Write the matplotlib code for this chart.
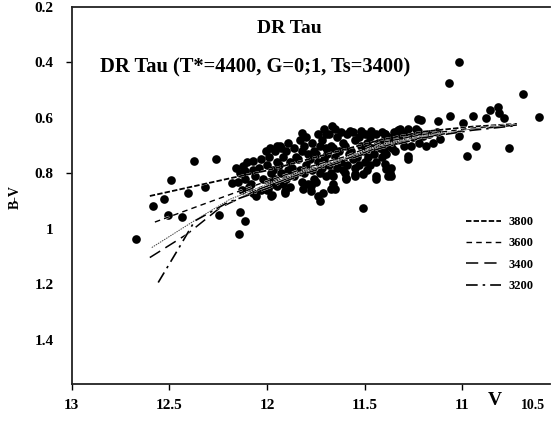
import matplotlib
matplotlib.use("Agg")
import matplotlib.pyplot as plt
import matplotlib.patheffects as pe

plt.rcParams['font.family'] = ['Liberation Serif', 'DejaVu Serif']
plt.rcParams['font.weight'] = 'bold'

faint_v = [12.669, 12.584, 12.526, 12.492, 12.506, 12.434, 12.404, 12.373, 12.263, 12.318,
           12.245, 12.18, 12.139, 12.114, 12.143, 12.057, 12.16, 12.114, 12.071, 12.003,
           11.951, 11.994, 11.972, 11.951]
faint_bv = [1.038, 0.919, 0.892, 0.826, 0.952, 0.957, 0.870, 0.756, 0.748, 0.849,
            0.952, 0.834, 0.940, 0.972, 1.020, 0.882, 0.780, 0.792, 0.756, 0.720,
            0.703, 0.858, 0.880, 0.846]

cluster_v = [12.14, 12.15, 12.13,
             12.10, 12.11, 12.09,
             12.07, 12.06, 12.08, 12.07,
             12.03, 12.04, 12.02, 12.03,
             11.99, 12.00, 11.98, 11.99, 12.00,
             11.96, 11.95, 11.97, 11.96,
             11.93, 11.92, 11.94, 11.93, 11.92,
             11.89, 11.90, 11.88, 11.89, 11.90, 11.88,
             11.86, 11.85, 11.87, 11.86,
             11.83, 11.82, 11.84, 11.83, 11.82,
             11.80, 11.81, 11.79, 11.80, 11.81, 11.79,
             11.77, 11.76, 11.78, 11.77, 11.76,
             11.74, 11.73, 11.75, 11.74, 11.73, 11.75,
             11.71, 11.72, 11.70, 11.71, 11.72, 11.70,
             11.68, 11.67, 11.69, 11.68, 11.67,
             11.65, 11.64, 11.66, 11.65, 11.64, 11.66,
             11.62, 11.61, 11.63, 11.62, 11.61,
             11.59, 11.60, 11.58, 11.59, 11.60,
             11.56, 11.55, 11.57, 11.56, 11.55,
             11.53, 11.52, 11.54, 11.53,
             11.50, 11.49, 11.51, 11.50, 11.49,
             11.47, 11.46, 11.48, 11.47,
             11.44, 11.43, 11.45, 11.44,
             11.41, 11.40, 11.42, 11.41,
             11.38, 11.37, 11.39,
             11.35, 11.34, 11.36]
cluster_bv = [0.80, 0.83, 0.86,
              0.76, 0.82, 0.85,
              0.79, 0.81, 0.84, 0.87,
              0.75, 0.78, 0.82, 0.86,
              0.74, 0.77, 0.80, 0.83, 0.86,
              0.72, 0.76, 0.79, 0.82,
              0.71, 0.74, 0.77, 0.80, 0.84,
              0.69, 0.72, 0.76, 0.79, 0.82, 0.85,
              0.71, 0.74, 0.78, 0.81,
              0.68, 0.72, 0.75, 0.79, 0.83,
              0.67, 0.70, 0.73, 0.77, 0.80, 0.84,
              0.69, 0.72, 0.75, 0.79, 0.82,
              0.66, 0.70, 0.73, 0.76, 0.80, 0.83,
              0.64, 0.68, 0.71, 0.75, 0.78, 0.81,
              0.66, 0.70, 0.73, 0.77, 0.80,
              0.64, 0.67, 0.71, 0.74, 0.78, 0.81,
              0.65, 0.69, 0.72, 0.76, 0.79,
              0.66, 0.70, 0.73, 0.77, 0.80,
              0.65, 0.68, 0.72, 0.75, 0.78,
              0.67, 0.70, 0.74, 0.77,
              0.66, 0.69, 0.72, 0.76, 0.79,
              0.67, 0.71, 0.74, 0.77,
              0.66, 0.69, 0.73, 0.76,
              0.65, 0.68, 0.71, 0.74,
              0.67, 0.70, 0.73,
              0.65, 0.68, 0.71]

edge_v = [11.908, 11.815, 11.772, 11.730, 11.739, 11.670, 11.662, 11.593, 11.551, 11.440,
          11.389, 11.363, 11.508, 11.969, 11.774, 11.713, 11.653, 11.951, 11.909, 11.977,
          11.593, 11.551, 11.508, 11.44, 11.38, 11.363, 11.278,
          11.823, 11.665, 11.696, 11.577, 11.517, 11.465, 11.397, 11.329, 11.286, 11.227,
          11.227, 11.935, 11.986, 12.122, 11.372]
edge_bv = [0.864, 0.858, 0.864, 0.900, 0.882, 0.858, 0.840, 0.816, 0.810, 0.810,
           0.786, 0.810, 0.924, 0.840, 0.846, 0.870, 0.858, 0.840, 0.870, 0.882,
           0.822, 0.804, 0.804, 0.822, 0.810, 0.780, 0.750,
           0.654, 0.628, 0.660, 0.649, 0.649, 0.649, 0.657, 0.645, 0.654, 0.649,
           0.606, 0.703, 0.708, 0.774, 0.676]

bright_v = [11.019, 11.069, 10.69, 10.608, 11.06, 10.946, 10.86, 10.818, 10.81, 10.877,
            10.784, 11.213, 11.125, 10.997, 10.928, 10.758, 10.976, 11.014, 11.397, 11.321,
            11.305, 11.235, 11.2, 11.15, 11.389, 11.346, 11.278, 11.397, 11.372, 11.26,
            11.184, 11.116, 11.35, 11.30, 11.25, 11.22, 11.17, 11.13, 11.28, 11.33,
            11.40, 11.42]
bright_bv = [0.397, 0.474, 0.513, 0.597, 0.592, 0.592, 0.571, 0.562, 0.582, 0.60,
             0.60, 0.609, 0.613, 0.618, 0.70, 0.708, 0.736, 0.667, 0.66, 0.642,
             0.667, 0.642, 0.667, 0.69, 0.702, 0.72, 0.738, 0.768, 0.798, 0.702,
             0.702, 0.678, 0.68, 0.70, 0.67, 0.69, 0.66, 0.65, 0.64, 0.66,
             0.72, 0.69]

# model tracks for different spot temperatures
v_3800 = [12.60, 12.33, 12.175, 12.0, 11.66, 11.42, 11.2, 10.95, 10.72]
bv_3800 = [0.882, 0.84, 0.816, 0.79, 0.725, 0.68, 0.65, 0.632, 0.622]
v_3600 = [12.574, 12.327, 12.07, 11.8, 11.6, 11.42, 11.2, 10.95, 10.72]
bv_3600 = [0.976, 0.912, 0.846, 0.78, 0.74, 0.69, 0.66, 0.637, 0.624]
v_thin = [12.59, 12.36, 12.19, 12.0, 11.8, 11.6, 11.42, 11.2, 10.95, 10.72]
bv_thin = [1.068, 0.966, 0.894, 0.84, 0.79, 0.745, 0.70, 0.665, 0.64, 0.625]
v_3400 = [12.60, 12.41, 12.24, 12.05, 11.8, 11.6, 11.42, 11.2, 10.95, 10.72]
bv_3400 = [1.104, 1.02, 0.924, 0.86, 0.795, 0.75, 0.705, 0.67, 0.642, 0.626]
v_3200 = [12.557, 12.455, 12.37, 12.2, 12.0, 11.8, 11.6, 11.42, 11.2, 10.95, 10.72]
bv_3200 = [1.194, 1.074, 0.972, 0.905, 0.855, 0.80, 0.755, 0.71, 0.672, 0.645, 0.628]

xticks = [13, 12.5, 12, 11.5, 11]
xlabels = ['13', '12.5', '12', '11.5', '11']
yticks = [0.2, 0.4, 0.6, 0.8, 1.0, 1.2, 1.4]
ylabels = ['0.2', '0.4', '0.6', '0.8', '1', '1.2', '1.4']

fig = plt.figure(figsize=(5.53, 4.30), dpi=100)
ax = fig.add_axes([0.1297, 0.107, 0.865, 0.877])

for vv, bb in [(faint_v, faint_bv), (cluster_v, cluster_bv), (edge_v, edge_bv), (bright_v, bright_bv)]:
    ax.scatter(vv, bb, s=39, c='black', marker='o', linewidths=0, zorder=2)

halo = [pe.Stroke(linewidth=1.6, foreground='white'), pe.Normal()]
ax.plot(v_thin, bv_thin, color='#444444', lw=0.7, ls=(0, (1.5, 1)), zorder=3, path_effects=halo)
ax.plot(v_3800, bv_3800, color='black', lw=1.3, ls=(0, (3, 1.2)), zorder=3, path_effects=halo, label='3800')
ax.plot(v_3600, bv_3600, color='black', lw=1.0, ls=(0, (4, 3)), zorder=3, path_effects=halo, label='3600')
ax.plot(v_3400, bv_3400, color='black', lw=1.1, ls=(0, (8, 4)), zorder=3, path_effects=halo, label='3400')
ax.plot(v_3200, bv_3200, color='black', lw=1.2, ls=(0, (7, 3, 1.5, 3)), zorder=3, path_effects=halo, label='3200')

ax.set_xlim(13, 10.55)
ax.set_ylim(1.56, 0.2)

ax.set_xticks(xticks)
ax.set_xticklabels(xlabels)
ax.set_yticks(yticks)
ax.set_yticklabels(ylabels)
ax.tick_params(axis='x', direction='out', length=4, width=1, pad=7, labelsize=11)
ax.tick_params(axis='y', direction='out', length=4, width=1, pad=9, labelsize=11)
for i, t in enumerate(ax.yaxis.get_major_ticks()):
    if ylabels[i] not in ('0.4', '0.8'):
        t.tick1line.set_visible(False)

ax.spines['right'].set_visible(False)
for s in ['left', 'bottom', 'top']:
    ax.spines[s].set_linewidth(1.3)
    ax.spines[s].set_color('#222222')

ax.text(0.9645, -0.056, '10.5', transform=ax.transAxes, ha='center', va='center', fontsize=10)
ax.text(0.885, -0.045, 'V', transform=ax.transAxes, ha='center', va='center', fontsize=14)
fig.text(15 / 553, 1 - 197 / 430, 'B-V', rotation=90, ha='center', va='center', fontsize=10)

ax.text(0.455, 0.942, 'DR Tau', transform=ax.transAxes, ha='center', va='center', fontsize=14)
ax.text(0.06, 0.839, 'DR Tau (T*=4400, G=0;1, Ts=3400)', transform=ax.transAxes,
        ha='left', va='center', fontsize=14.8)

leg = ax.legend(loc='upper left', bbox_to_anchor=(0.8, 0.475), frameon=False, fontsize=9,
                handlelength=2.8, handletextpad=0.6, labelspacing=0.75)

fig.savefig('out.png', dpi=100)
